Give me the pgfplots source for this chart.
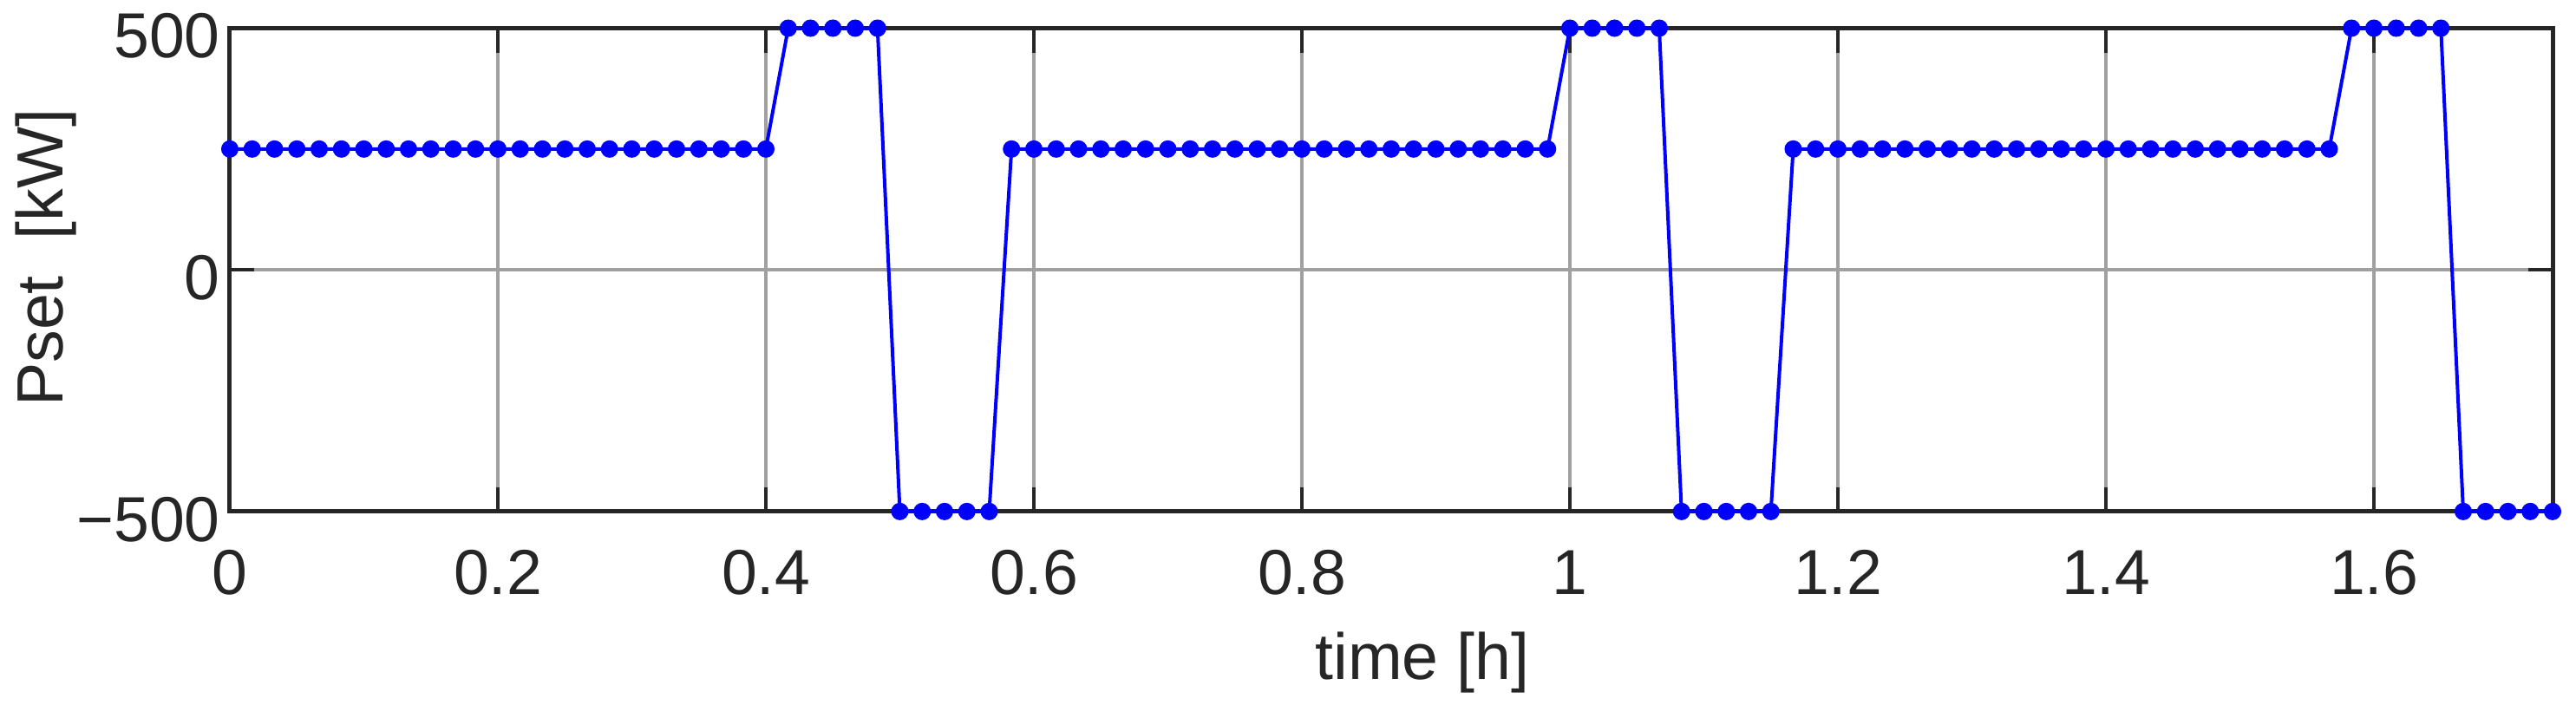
\documentclass[border=0pt]{standalone}
\usepackage{pgfplots}
\pgfplotsset{compat=1.18}
\usepackage{fontspec}
\setmainfont{Liberation Sans}
\usetikzlibrary{calc}
\definecolor{axgray}{HTML}{262626}
\definecolor{gridgray}{HTML}{A0A0A0}
\begin{document}
\begin{tikzpicture}
\begin{axis}[
  scale only axis,
  width=401.7pt, height=83.6pt,
  xmin=0, xmax=1.73333, ymin=-500, ymax=500,
  xtick={0,0.2,0.4,0.6,0.8,1,1.2,1.4,1.6},
  xticklabels={0,0.2,0.4,0.6,0.8,1,1.2,1.4,1.6},
  ytick={-500,0,500},
  yticklabels={−500,0,500},
  tick align=inside,
  major tick length=4.2pt,
  tick style={axgray, line width=0.6pt},
  axis line style={axgray, line width=0.75pt},
  grid=major,
  major grid style={gridgray, line width=0.6pt},
  font=\fontsize{11}{13}\selectfont,
  ticklabel style={font=\fontsize{11}{13}\selectfont, text=axgray},
  xticklabel style={anchor=base, yshift=-14.4pt, inner sep=0pt},
  yticklabel style={anchor=east, xshift=-1.5pt, yshift=-1.35pt, inner sep=0pt},
  xlabel={time [h]},
  ylabel={Pset\ \ [kW]},
  xlabel style={at={(axis description cs:0.5134,-0.3468)}, anchor=base, inner sep=0pt, text=axgray, font=\fontsize{11.3}{13}\selectfont},
  ylabel style={at={(axis description cs:-0.0717,0.525)}, anchor=base, rotate=0, inner sep=0pt, text=axgray, font=\fontsize{11.3}{13}\selectfont},
  clip=false,
  axis on top=false,
]
\addplot[blue, line width=0.6pt, mark=*, mark size=1.2pt, mark options={fill=blue, draw=blue}] coordinates {
(0,250) (0.01667,250) (0.03333,250) (0.05,250) (0.06667,250) (0.08333,250) (0.1,250) (0.11667,250) (0.13333,250) (0.15,250)
(0.16667,250) (0.18333,250) (0.2,250) (0.21667,250) (0.23333,250) (0.25,250) (0.26667,250) (0.28333,250) (0.3,250) (0.31667,250)
(0.33333,250) (0.35,250) (0.36667,250) (0.38333,250) (0.4,250)
(0.41667,500) (0.43333,500) (0.45,500) (0.46667,500) (0.48333,500)
(0.5,-500) (0.51667,-500) (0.53333,-500) (0.55,-500) (0.56667,-500)
(0.58333,250) (0.6,250) (0.61667,250) (0.63333,250) (0.65,250) (0.66667,250) (0.68333,250) (0.7,250) (0.71667,250) (0.73333,250)
(0.75,250) (0.76667,250) (0.78333,250) (0.8,250) (0.81667,250) (0.83333,250) (0.85,250) (0.86667,250) (0.88333,250) (0.9,250)
(0.91667,250) (0.93333,250) (0.95,250) (0.96667,250) (0.98333,250)
(1,500) (1.01667,500) (1.03333,500) (1.05,500) (1.06667,500)
(1.08333,-500) (1.1,-500) (1.11667,-500) (1.13333,-500) (1.15,-500)
(1.16667,250) (1.18333,250) (1.2,250) (1.21667,250) (1.23333,250) (1.25,250) (1.26667,250) (1.28333,250) (1.3,250) (1.31667,250)
(1.33333,250) (1.35,250) (1.36667,250) (1.38333,250) (1.4,250) (1.41667,250) (1.43333,250) (1.45,250) (1.46667,250) (1.48333,250)
(1.5,250) (1.51667,250) (1.53333,250) (1.55,250) (1.56667,250)
(1.58333,500) (1.6,500) (1.61667,500) (1.63333,500) (1.65,500)
(1.66667,-500) (1.68333,-500) (1.7,-500) (1.71667,-500) (1.73333,-500)
};
\end{axis}
\pgfresetboundingbox
\path[use as bounding box] ($(current axis.south west)+(-39.75pt,-33.45pt)$) rectangle ($(current axis.north east)+(4.05pt,4.875pt)$);
\end{tikzpicture}
\end{document}
